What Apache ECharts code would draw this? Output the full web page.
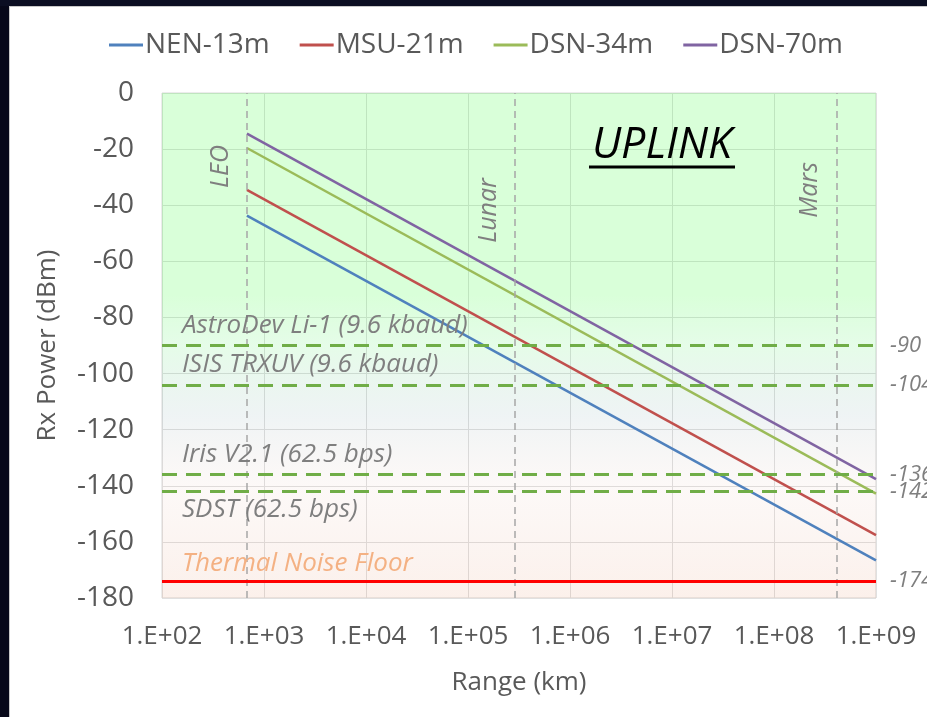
<!DOCTYPE html>
<html>
<head>
<meta charset="utf-8">
<script src="https://cdn.jsdelivr.net/npm/echarts@6/dist/echarts.min.js"></script>
<style>
  html, body { margin: 0; padding: 0; background: #080a1e; }
  #chart { width: 927px; height: 717px; }
</style>
</head>
<body>
<div id="chart"></div>
<script>
// Uplink received power at the spacecraft vs. range, per ground station
const STATIONS = ['NEN-13m', 'MSU-21m', 'DSN-34m', 'DSN-70m'];
const RANGE_KM = [680, 1e9];
const NEN_13M = [-43.7, -166.6];
const MSU_21M = [-34.5, -157.6];
const DSN_34M = [-19.6, -142.8];
const DSN_70M = [-14.5, -137.6];

// Receiver sensitivities (dBm)
const RADIOS = ['AstroDev Li-1 (9.6 kbaud)', 'ISIS TRXUV (9.6 kbaud)', 'Iris V2.1 (62.5 bps)', 'SDST (62.5 bps)'];
const RADIO_SENS_DBM = [-90, -104, -136, -142];
const NOISE_FLOOR_NAME = 'Thermal Noise Floor';
const NOISE_FLOOR_DBM = -174;

// Reference distances (km)
const REGIONS = ['LEO', 'Lunar', 'Mars'];
const REGION_KM = [680, 2.9e5, 4.1e8];

// Axis ticks
const X_TICK_LABELS = ['1.E+02', '1.E+03', '1.E+04', '1.E+05', '1.E+06', '1.E+07', '1.E+08', '1.E+09'];
const Y_TICK_LABELS = ['-180', '-160', '-140', '-120', '-100', '-80', '-60', '-40', '-20', '0'];

const X_MIN = 1e2, X_MAX = 1e9, Y_MIN = -180, Y_MAX = 0;
const COLORS = ['#4f81bd', '#c0504d', '#9bbb59', '#8064a2'];
const SERIES_VALUES = [NEN_13M, MSU_21M, DSN_34M, DSN_70M];

const FONT = '"Open Sans", "DejaVu Sans", sans-serif';
const GREY_TEXT = '#7f7f7f';
const AXIS_TEXT = '#595959';
const HIDDEN_LINE = { color: 'rgba(0,0,0,0)', width: 0 };

const chart = echarts.init(document.getElementById('chart'), null, { renderer: 'canvas' });

const stationSeries = STATIONS.map((name, s) => ({
  name,
  type: 'line',
  z: 2,
  symbol: 'none',
  lineStyle: { width: 2.5, color: COLORS[s] },
  itemStyle: { color: COLORS[s] },
  data: RANGE_KM.map((r, i) => [r, SERIES_VALUES[s][i]])
}));

// distance of each region label from the top of the plot, along its line
const regionLabelInset = [52, 85, 69];

const italicLabel = (extra) => Object.assign({
  show: true,
  fontFamily: FONT,
  fontStyle: 'italic',
  color: GREY_TEXT,
  fontSize: 26
}, extra);

const lineMarks = [];
REGIONS.forEach((name, i) => {
  lineMarks.push({
    xAxis: REGION_KM[i],
    lineStyle: { color: '#a6a6a6', width: 1.5, type: [7, 5] },
    label: italicLabel({ position: 'insideEndTop', formatter: name, fontSize: 25, distance: [regionLabelInset[i], 14] })
  });
});
RADIOS.forEach((name, i) => {
  lineMarks.push({
    yAxis: RADIO_SENS_DBM[i],
    lineStyle: { color: '#70ad47', width: 3, type: [15, 9] },
    label: italicLabel({ position: 'end', formatter: '{c}', fontSize: 22, distance: 14 })
  });
  const below = i === RADIOS.length - 1;
  lineMarks.push({
    yAxis: RADIO_SENS_DBM[i],
    lineStyle: HIDDEN_LINE,
    label: italicLabel({
      position: below ? 'insideStartBottom' : 'insideStartTop',
      formatter: name,
      distance: [20, below ? 5 : 7]
    })
  });
});
lineMarks.push({
  yAxis: NOISE_FLOOR_DBM,
  lineStyle: { color: '#ff0000', width: 3, type: 'solid' },
  label: italicLabel({ position: 'end', formatter: '{c}', fontSize: 22, distance: 14 })
});
lineMarks.push({
  yAxis: NOISE_FLOOR_DBM,
  lineStyle: HIDDEN_LINE,
  label: italicLabel({ position: 'insideStartTop', formatter: NOISE_FLOOR_NAME, color: '#f4b183', distance: [20, 5] })
});

const option = {
  animation: false,
  backgroundColor: '#ffffff',
  textStyle: { fontFamily: FONT },
  legend: {
    data: STATIONS,
    left: 104,
    top: 26,
    icon: 'rect',
    itemWidth: 34,
    itemHeight: 3,
    itemGap: 30,
    textStyle: { fontFamily: FONT, fontSize: 28, color: AXIS_TEXT, padding: [0, 0, 0, -3] }
  },
  grid: {
    left: 162, top: 93, width: 714, height: 505,
    show: true,
    backgroundColor: '#ffffff',
    borderColor: '#d9d9d9',
    borderWidth: 1
  },
  xAxis: {
    type: 'log',
    logBase: 10,
    min: X_MIN,
    max: X_MAX,
    splitNumber: 7,
    name: 'Range (km)',
    nameLocation: 'middle',
    nameGap: 72,
    nameTextStyle: { fontFamily: FONT, fontSize: 26, color: AXIS_TEXT },
    axisLine: { show: false },
    axisTick: { show: false },
    axisLabel: {
      margin: 26,
      fontFamily: FONT, fontSize: 26, color: AXIS_TEXT,
      formatter: (v) => X_TICK_LABELS[Math.round(Math.log10(v)) - 2]
    },
    splitLine: { show: true, lineStyle: { color: '#e0e0e0', width: 1 } }
  },
  yAxis: {
    type: 'value',
    min: Y_MIN,
    max: Y_MAX,
    interval: 20,
    name: 'Rx Power (dBm)',
    nameLocation: 'middle',
    nameGap: 101,
    nameTextStyle: { fontFamily: FONT, fontSize: 26, color: AXIS_TEXT },
    axisLine: { show: false },
    axisTick: { show: false },
    axisLabel: {
      margin: 28,
      fontFamily: FONT, fontSize: 28, color: AXIS_TEXT,
      formatter: (v) => Y_TICK_LABELS[Math.round((v - Y_MIN) / 20)]
    },
    splitLine: { show: true, lineStyle: { color: '#e0e0e0', width: 1 } }
  },
  graphic: [
    { type: 'rect', silent: true, shape: { x: 0, y: 0, width: 9, height: 717 }, style: { fill: '#070819' } },
    { type: 'rect', silent: true, shape: { x: 0, y: 0, width: 927, height: 6 }, style: { fill: '#0b0e22' } },
    { type: 'rect', silent: true, shape: { x: 9, y: 6, width: 1, height: 711 }, style: { fill: '#c8c8c8' } },
    { type: 'rect', silent: true, shape: { x: 9, y: 6, width: 918, height: 1 }, style: { fill: '#c8c8c8' } },
    {
      type: 'text', silent: true, x: 662, y: 146, z: 10,
      style: {
        text: 'UPLINK', fontFamily: FONT, fontStyle: 'italic', fontSize: 43,
        fill: '#000000', align: 'center', verticalAlign: 'middle'
      }
    },
    { type: 'line', silent: true, z: 10, shape: { x1: 589, y1: 167, x2: 735, y2: 167 }, style: { stroke: '#000000', lineWidth: 3 } }
  ],
  series: [
    ...stationSeries,
    {
      // tinted bands: green (strong signal) through pale to peach (near the noise floor)
      type: 'line',
      z: 3,
      data: [],
      silent: true,
      markArea: {
        silent: true,
        itemStyle: {
          color: {
            type: 'linear', x: 0, y: 0, x2: 0, y2: 1,
            colorStops: [
              { offset: 0, color: 'rgba(0,255,0,0.15)' },
              { offset: 0.40, color: 'rgba(0,255,0,0.15)' },
              { offset: 0.50, color: 'rgba(0,230,30,0.10)' },
              { offset: 0.64, color: 'rgba(12,85,100,0.065)' },
              { offset: 0.78, color: 'rgba(200,110,80,0.045)' },
              { offset: 1, color: 'rgba(215,90,30,0.09)' }
            ]
          }
        },
        data: [[{ xAxis: X_MIN, yAxis: Y_MAX }, { xAxis: X_MAX, yAxis: Y_MIN }]]
      }
    },
    {
      type: 'line',
      z: 4,
      data: [],
      clip: false,
      markLine: {
        silent: true,
        symbol: ['none', 'none'],
        emphasis: { disabled: true },
        data: lineMarks
      }
    }
  ]
};

chart.setOption(option);
</script>
</body>
</html>
